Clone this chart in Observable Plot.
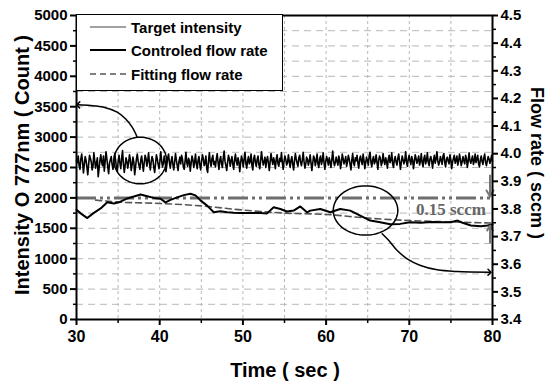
<!DOCTYPE html>
<html><head><meta charset="utf-8">
<script src="https://cdn.jsdelivr.net/npm/d3@7"></script>
<script src="https://cdn.jsdelivr.net/npm/@observablehq/plot@0.6"></script>
<style>
body{margin:0;background:#fff;}
#wrap{position:relative;width:555px;height:383px;font-family:"Liberation Sans",Arial,sans-serif;}
#legend{position:absolute;left:76px;top:14px;width:207px;height:77px;border:1.5px solid #000;background:#fff;box-sizing:border-box;font-weight:bold;font-size:15px;color:#000;}
.row{position:absolute;left:0;height:20px;display:flex;align-items:center;white-space:nowrap;}
.row svg{margin-left:13px;margin-right:5px;}
svg text{font-weight:bold;}
</style></head><body><div id="wrap"></div>
<script>
// ---- data ----
const timeStart = 30, timeEnd = 80;
const timeTicks = [30, 40, 50, 60, 70, 80];
const timeMinor = [35, 45, 55, 65, 75];
const countTicks = [0, 500, 1000, 1500, 2000, 2500, 3000, 3500, 4000, 4500, 5000];
const countMinor = [250, 750, 1250, 1750, 2250, 2750, 3250, 3750, 4250, 4750];
const flowTicks = [3.4, 3.5, 3.6, 3.7, 3.8, 3.9, 4.0, 4.1, 4.2, 4.3, 4.4, 4.5];
const flowMinor = [3.45, 3.55, 3.65, 3.75, 3.85, 3.95, 4.05, 4.15, 4.25, 4.35, 4.45];
const gridTimes = [35, 40, 45, 50, 55, 60, 65, 70, 75];
const gridCounts = [250, 500, 750, 1000, 1250, 1500, 1750, 2250, 2500, 2750, 3000, 3250, 3500, 3750, 4000, 4250, 4500, 4750];
const setpointCount = 2000;

// Target intensity (Count), evenly sampled from 30 s to 80 s
const targetIntensity = [
2610,2580,2690,2530,2470,2640,2720,2590,2410,2550,2680,2620,2500,2380,2560,2700,2650,2590,2460,2520,
2740,2610,2490,2570,2660,2350,2480,2620,2710,2580,2530,2690,2440,2600,2760,2640,2510,2400,2570,2630,
2680,2550,2470,2590,2730,2620,2500,2440,2610,2700,2570,2480,2650,2780,2560,2420,2530,2660,2600,2490,
2580,2710,2630,2450,2540,2670,2590,2380,2510,2640,2720,2600,2530,2470,2620,2690,2560,2440,2580,2700,
2650,2520,2610,2740,2570,2460,2590,2680,2630,2500,2420,2560,2710,2640,2550,2480,2600,2760,2620,2510,
2570,2690,2600,2430,2540,2660,2720,2580,2490,2610,2680,2550,2460,2590,2730,2620,2530,2450,2600,2670,
2560,2700,2640,2510,2470,2600,2750,2580,2520,2650,2610,2440,2570,2690,2630,2500,2590,2720,2560,2480,
2620,2680,2540,2460,2600,2710,2650,2530,2570,2690,2480,2420,2610,2740,2590,2520,2650,2700,2550,2600,
2510,2640,2730,2580,2470,2620,2680,2560,2500,2660,2770,2600,2530,2450,2590,2700,2640,2520,2610,2680,
2550,2470,2630,2720,2600,2540,2660,2590,2430,2580,2690,2620,2510,2640,2750,2570,2490,2610,2680,2560,
2600,2720,2530,2460,2650,2700,2580,2520,2630,2690,2550,2480,2610,2760,2640,2540,2590,2670,2500,2620,
2680,2570,2450,2600,2730,2620,2550,2660,2590,2480,2640,2710,2560,2520,2650,2600,2740,2580,2470,2610,
2690,2630,2540,2580,2710,2600,2500,2620,2680,2550,2460,2610,2730,2640,2570,2520,2660,2700,2590,2530,
2620,2750,2600,2490,2560,2670,2630,2540,2600,2710,2580,2450,2570,2690,2650,2530,2610,2720,2560,2500,
2640,2690,2550,2610,2740,2580,2470,2600,2680,2620,2540,2660,2590,2500,2630,2770,2610,2530,2580,2670,
2600,2540,2690,2630,2480,2570,2720,2650,2560,2610,2680,2520,2590,2700,2640,2550,2460,2620,2730,2580,
2530,2660,2610,2700,2570,2490,2640,2690,2600,2550,2720,2620,2480,2580,2670,2610,2540,2690,2750,2590,
2510,2630,2680,2560,2600,2710,2580,2470,2620,2690,2640,2530,2590,2730,2610,2550,2660,2600,2490,2640,
2700,2580,2620,2740,2560,2500,2630,2680,2590,2540,2650,2720,2600,2470,2580,2690,2630,2560,2610,2760,
2590,2520,2640,2700,2610,2550,2680,2630,2480,2590,2710,2650,2570,2620,2690,2540,2600,2730,2580,2510,
2650,2700,2560,2610,2740,2590,2530,2640,2680,2600,2490,2620,2700,2570,2640,2760,2610,2540,2590,2680,
2620,2550,2690,2730,2580,2510,2640,2670,2600,2560,2710,2630,2480,2590,2650,2700,2570,2620,2690,2540,
2600,2720,2640,2530,2590,2680,2610,2560,2700,2650,2500,2600,2740,2620,2570,2630,2690,2550,2610,2720,
2580,2640,2700,2560,2510,2630,2690,2600,2550,2660,2720,2590,2530,2610,2680,2640,2570,2620,2700,2600
];

// Controlled flow rate (sccm)
const controlTime = [30.0,30.5,31.3,32.0,32.9,33.7,34.5,35.1,36.1,36.9,37.7,38.5,39.3,40.1,40.7,41.3,42.1,42.9,43.7,44.3,44.9,45.7,46.5,47.3,48.1,48.9,49.7,50.5,51.3,52.1,52.9,53.7,54.5,55.3,56.1,56.9,57.7,58.1,59.3,60.5,61.7,62.9,64.1,65.3,66.5,67.7,68.9,70.1,71.4,72.6,73.8,75.0,75.8,76.4,77.4,78.6,79.4,80.0];
const controlFlow = [3.797,3.784,3.767,3.784,3.802,3.824,3.820,3.824,3.838,3.845,3.852,3.846,3.840,3.837,3.824,3.833,3.842,3.850,3.855,3.849,3.831,3.812,3.788,3.792,3.788,3.786,3.785,3.785,3.785,3.785,3.784,3.806,3.800,3.791,3.794,3.809,3.788,3.794,3.800,3.788,3.800,3.794,3.776,3.758,3.752,3.745,3.746,3.752,3.750,3.753,3.752,3.752,3.758,3.750,3.740,3.737,3.740,3.744];

// Fitting flow rate (sccm)
const fitTime = [32.3, 35, 40, 45, 50, 55, 60, 65, 70, 75, 80];
const fitFlow = [3.832, 3.825, 3.820, 3.811, 3.796, 3.785, 3.780, 3.767, 3.758, 3.753, 3.749];

// Annotations (data units)
const ellipseCenterTime = [37.66, 64.74];
const ellipseCenterCount = [2615, 1793];
const ellipseRadiusTime = [3.16, 3.88];
const ellipseRadiusCount = [383, 405];
const arrowLeftTime = [37.30, 36.69, 35.89, 34.89, 33.28, 31.68, 30.20];
const arrowLeftCount = [2998, 3163, 3301, 3410, 3492, 3520, 3531];
const arrowRightTime = [66.74, 67.54, 68.55, 69.75, 71.35, 73.35, 75.76, 79.64];
const arrowRightCount = [1410, 1299, 1135, 998, 888, 817, 789, 778];
const deltaLabel = "0.15 sccm";
const deltaLabelTime = 79.2, deltaLabelCount = 1809;
const deltaArrowTime = 79.7;
const deltaArrowFrom = [2368, 1266];
const deltaArrowTo = [2023, 1546];

// ---- scales helpers ----
const flowMin = 3.4, flowMax = 4.5, countMax = 5000;
const toCount = f => (f - flowMin) / (flowMax - flowMin) * countMax;
const fromCount = c => flowMin + c / countMax * (flowMax - flowMin);

const intensity = targetIntensity.map((c, i) => ({t: timeStart + i * (timeEnd - timeStart) / (targetIntensity.length - 1), c}));
const control = controlTime.map((t, i) => ({t, c: toCount(controlFlow[i])}));
const fit = fitTime.map((t, i) => ({t, c: toCount(fitFlow[i])}));
const ellipses = ellipseCenterTime.flatMap((ct, k) =>
  d3.range(0, 361, 4).map(a => ({k, t: ct + ellipseRadiusTime[k] * Math.cos(a * Math.PI / 180), c: ellipseCenterCount[k] + ellipseRadiusCount[k] * Math.sin(a * Math.PI / 180)})));
const arrowL = arrowLeftTime.map((t, i) => ({t, c: arrowLeftCount[i]}));
const arrowR = arrowRightTime.map((t, i) => ({t, c: arrowRightCount[i]}));
const deltaArrows = deltaArrowFrom.map((c, i) => ({t: deltaArrowTime, c1: c, c2: deltaArrowTo[i]}));

const svg = Plot.plot({
  width: 555, height: 383,
  marginLeft: 76, marginRight: 63, marginTop: 15, marginBottom: 64,
  x: {domain: [timeStart, timeEnd], label: null},
  y: {domain: [0, countMax], label: null},
  style: {fontFamily: "'Liberation Sans', Arial, sans-serif", fontSize: "15px", fontWeight: "bold", color: "#000", background: "transparent", overflow: "visible"},
  marks: [
    Plot.ruleY(gridCounts, {stroke: "#b8b8b8", strokeWidth: 1, strokeDasharray: "7,5"}),
    Plot.ruleX(gridTimes, {stroke: "#b8b8b8", strokeWidth: 1, strokeDasharray: "3,3"}),
    Plot.ruleY([setpointCount], {stroke: "#6e6e6e", strokeWidth: 3, strokeDasharray: "20,4,3,4,3,4"}),
    Plot.line(intensity, {x: "t", y: "c", stroke: "#000", strokeWidth: 1.6}),
    Plot.line(fit, {x: "t", y: "c", stroke: "#555", strokeWidth: 1.6, strokeDasharray: "6,4", curve: "monotone-x"}),
    Plot.line(control, {x: "t", y: "c", stroke: "#000", strokeWidth: 2}),
    Plot.line(ellipses, {x: "t", y: "c", z: "k", stroke: "#000", strokeWidth: 1.5, curve: "linear"}),
    Plot.line(arrowL, {x: "t", y: "c", stroke: "#000", strokeWidth: 1.5, curve: "catmull-rom", markerEnd: "arrow"}),
    Plot.line(arrowR, {x: "t", y: "c", stroke: "#000", strokeWidth: 1.5, curve: "catmull-rom", markerEnd: "arrow"}),
    Plot.arrow(deltaArrows, {x: "t", y1: "c1", y2: "c2", stroke: "#777", strokeWidth: 2, headLength: 7}),
    Plot.text([deltaLabel], {x: deltaLabelTime, y: deltaLabelCount, text: d => d, textAnchor: "end", lineAnchor: "middle", fill: "#666", fontFamily: "'Liberation Serif', 'Times New Roman', serif", fontSize: 17, fontWeight: "bold"}),
    Plot.frame({stroke: "#000", strokeWidth: 2}),
    Plot.axisX(timeTicks, {tickSize: 6, tickPadding: 5, strokeWidth: 2, fontSize: 16, fontWeight: "bold", label: null, tickFormat: d => String(d)}),
    Plot.axisX(timeMinor, {tickSize: 4, strokeWidth: 1.5, fill: "none", label: null}),
    Plot.axisY(countTicks, {anchor: "left", tickSize: 6, tickPadding: 3, strokeWidth: 2, fontSize: 15, fontWeight: "bold", label: null, tickFormat: d => String(d)}),
    Plot.axisY(countMinor, {anchor: "left", tickSize: 3, strokeWidth: 1.5, fill: "none", label: null}),
    Plot.axisY(flowTicks.map(toCount), {anchor: "right", tickSize: 5, tickPadding: 3, strokeWidth: 2, fontSize: 15, fontWeight: "bold", label: null, tickFormat: d => fromCount(d).toFixed(1)}),
    Plot.axisY(flowMinor.map(toCount), {anchor: "right", tickSize: 3, strokeWidth: 1.5, fill: "none", label: null})
  ]
});

const s = d3.select(svg);
s.append("text").attr("x", 285).attr("y", 377).attr("text-anchor", "middle")
  .style("font-size", "20px").style("font-weight", "bold").attr("fill", "#000").text("Time ( sec )");
s.append("text").attr("transform", "translate(29,165) rotate(-90)").attr("text-anchor", "middle")
  .style("font-size", "20px").style("font-weight", "bold").attr("fill", "#000").text("Intensity O 777nm ( Count )");
s.append("text").attr("transform", "translate(531,163) rotate(90)").attr("text-anchor", "middle")
  .style("font-size", "18px").style("font-weight", "bold").attr("fill", "#000").text("Flow rate ( sccm )");

const wrap = document.getElementById("wrap");
wrap.appendChild(svg);

// legend
const legendItems = ["Target intensity", "Controled flow rate", "Fitting flow rate"];
const legendStroke = ["#444", "#000", "#555"];
const legendWidth = [1, 2, 1.6];
const legendDash = [null, null, "6,4"];
const legendRowTop = [2, 25, 49];
const lg = document.createElement("div");
lg.id = "legend";
legendItems.forEach((name, i) => {
  const row = document.createElement("div");
  row.className = "row";
  row.style.top = legendRowTop[i] + "px";
  row.innerHTML = `<svg width="36" height="10"><line x1="0" x2="36" y1="5" y2="5" stroke="${legendStroke[i]}" stroke-width="${legendWidth[i]}" ${legendDash[i] ? `stroke-dasharray="${legendDash[i]}"` : ""}/></svg><span>${name}</span>`;
  lg.appendChild(row);
});
wrap.appendChild(lg);
</script>
</body></html>
